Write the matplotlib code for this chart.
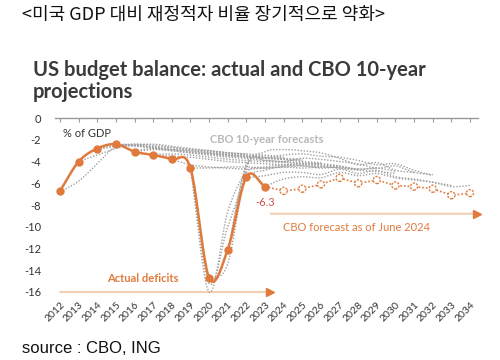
import numpy as np
import matplotlib
matplotlib.use("Agg")
import matplotlib.pyplot as plt

plt.rcParams['font.family'] = ['Lato', 'DejaVu Sans']

# ---------------- data ----------------
years = list(range(2012, 2035))
actual_years = list(range(2012, 2024))
actual = [-6.7, -4.0, -2.8, -2.4, -3.1, -3.4, -3.8, -4.6, -14.7, -12.1, -5.4, -6.3]

june2024_years = list(range(2023, 2035))
june2024 = [-6.3, -6.7, -6.5, -6.1, -5.5, -6.0, -5.7, -6.2, -6.3, -6.5, -7.1, -6.9]

cbo_2012 = [-6.8, -5.8, -4.2, -2.6, -2.5, -2.4, -2.6, -2.8, -3.0, -3.2, -3.3]
cbo_2013 = [-4.0, -3.4, -2.8, -2.4, -2.5, -2.7, -2.9, -3.1, -3.2, -3.4, -3.5]
cbo_2014 = [-2.9, -2.6, -2.5, -2.7, -2.9, -3.0, -3.2, -3.4, -3.5, -3.6, -3.7]
cbo_2014b = [-2.8, -2.5, -2.4, -2.6, -2.7, -2.9, -3.0, -3.2, -3.3, -3.4, -3.6]
cbo_2015 = [-2.4, -2.5, -2.8, -3.0, -3.2, -3.3, -3.5, -3.6, -3.7, -3.8, -3.9]
cbo_2015b = [-2.5, -2.6, -2.7, -2.9, -3.0, -3.2, -3.3, -3.5, -3.6, -3.7, -3.8]
cbo_2016 = [-3.1, -2.9, -3.0, -3.2, -3.4, -3.6, -3.7, -3.9, -4.0, -4.1, -4.2]
cbo_2016b = [-3.0, -2.8, -2.9, -3.1, -3.3, -3.4, -3.6, -3.7, -3.8, -4.0, -4.1]
cbo_2017 = [-3.4, -3.5, -3.6, -3.8, -4.0, -4.1, -4.2, -4.3, -4.4, -4.5, -4.5]
cbo_2017b = [-3.3, -3.3, -3.4, -3.6, -3.8, -3.9, -4.0, -4.1, -4.2, -4.3, -4.4]
cbo_2018 = [-3.8, -4.3, -4.5, -4.6, -4.7, -4.6, -4.5, -4.6, -4.5, -4.6, -4.7]
cbo_2019 = [-4.6, -4.6, -4.5, -4.5, -4.6, -4.5, -4.4, -4.6, -4.5, -4.7, -4.6]
cbo_2020 = [-4.6, -16.0, -8.6, -5.0, -4.5, -4.3, -4.2, -4.2, -4.4, -4.7, -4.6, -4.9]
cbo_2020b = [-4.6, -15.2, -10.0, -5.6, -4.8, -4.4, -4.3, -4.4, -4.6, -4.8, -4.9, -5.1]
cbo_2021 = [-14.9, -13.4, -4.7, -3.1, -2.9, -3.0, -3.2, -3.7, -4.3, -4.1, -4.8, -5.0]
cbo_2022 = [-12.4, -4.2, -3.9, -4.0, -3.7, -3.8, -4.0, -4.2, -4.6, -4.4, -5.0, -5.2]
cbo_2022b = [-12.2, -4.4, -3.7, -3.4, -3.3, -3.5, -3.6, -3.9, -4.3, -4.2, -4.8, -5.3]
cbo_2023 = [-5.5, -5.3, -5.0, -5.0, -5.2, -4.7, -5.1, -4.8, -5.4, -5.6, -5.9, -6.2]
cbo_2024 = [-6.3, -5.6, -5.4, -5.5, -5.0, -5.3, -5.1, -5.5, -5.7, -5.9, -6.3, -6.2]
cbo_starts = [2012, 2013, 2014, 2014, 2015, 2015, 2016, 2016, 2017, 2017, 2018, 2019,
              2019, 2019, 2020, 2021, 2021, 2022, 2023]
cbo_series = [cbo_2012, cbo_2013, cbo_2014, cbo_2014b, cbo_2015, cbo_2015b, cbo_2016,
              cbo_2016b, cbo_2017, cbo_2017b, cbo_2018, cbo_2019, cbo_2020, cbo_2020b,
              cbo_2021, cbo_2022, cbo_2022b, cbo_2023, cbo_2024]

yticks = [0, -2, -4, -6, -8, -10, -12, -14, -16]

# ---------------- helpers ----------------
def smooth(x, y, n=20):
    x = np.asarray(x, float); y = np.asarray(y, float)
    if len(x) < 3:
        return x, y
    px = np.concatenate([[2 * x[0] - x[1]], x, [2 * x[-1] - x[-2]]])
    py = np.concatenate([[2 * y[0] - y[1]], y, [2 * y[-1] - y[-2]]])
    xs, ys = [], []
    t = np.linspace(0, 1, n, endpoint=False)
    for i in range(1, len(px) - 2):
        f = lambda a0, a1, a2, a3: 0.5 * ((2 * a1) + (-a0 + a2) * t +
                                           (2 * a0 - 5 * a1 + 4 * a2 - a3) * t ** 2 +
                                           (-a0 + 3 * a1 - 3 * a2 + a3) * t ** 3)
        xs.append(f(px[i - 1], px[i], px[i + 1], px[i + 2]))
        ys.append(f(py[i - 1], py[i], py[i + 1], py[i + 2]))
    xs.append([x[-1]]); ys.append([y[-1]])
    return np.concatenate(xs), np.concatenate(ys)

ORANGE = '#E07A3C'
LIGHT_OR = '#F2CFB3'
GRAY = '#A0A0A0'
TXT = '#333333'

fig = plt.figure(figsize=(5, 3.6), dpi=100)
fig.patch.set_facecolor('white')
ax = fig.add_axes([0.11, 0.175, 0.846, 0.497])

# gray CBO forecasts
for s, vals in zip(cbo_starts, cbo_series):
    xx = list(range(s, s + len(vals)))
    sx, sy = smooth(xx, vals)
    ax.plot(sx, sy, color=GRAY, lw=1.0, ls=(0, (1, 1.2)), zorder=2)

# June 2024 forecast
ax.plot(june2024_years, june2024, color=ORANGE, lw=1.2, ls=(0, (1, 1.2)), zorder=3)
ax.scatter(june2024_years[1:], june2024[1:], s=26, facecolors='white',
           edgecolors=ORANGE, linewidths=1.0, linestyles=(0, (1.5, 1)), zorder=4)

# actual
sx, sy = smooth(actual_years, actual)
ax.plot(sx, sy, color=ORANGE, lw=1.8, zorder=5)
ax.plot(actual_years, actual, 'o', color=ORANGE, ms=5, zorder=6)

# arrows
ax.annotate('', xy=(2023.25, -16), xytext=(2012, -16),
            arrowprops=dict(arrowstyle='-', color=LIGHT_OR, lw=1.5,
                            shrinkA=0, shrinkB=0), zorder=1)
ax.plot([2023.25], [-16], marker='>', color=ORANGE, ms=6, clip_on=False, zorder=2)
ax.annotate('', xy=(2034.4, -8.8), xytext=(2023.3, -8.8),
            arrowprops=dict(arrowstyle='-', color=LIGHT_OR, lw=1.5,
                            shrinkA=0, shrinkB=0), zorder=1)
ax.plot([2034.4], [-8.8], marker='>', color=ORANGE, ms=6, clip_on=False, zorder=2)

# texts
ax.text(2012.15, -1.4, '% of GDP', fontsize=8, color=TXT, va='center', ha='left')
ax.text(2023.1, -2.0, 'CBO 10-year forecasts', fontsize=8, color='#B8B8B8',
        fontweight='bold', va='center', ha='center')
ax.text(2023.0, -7.8, '-6.3', fontsize=8, color='#D0524A', va='center', ha='center')
ax.text(2023.95, -10.1, 'CBO forecast as of June 2024', fontsize=8, color=ORANGE,
        va='center', ha='left')
ax.text(2014.5, -14.8, 'Actual deficits', fontsize=8, color=ORANGE,
        fontweight='bold', va='center', ha='left')

# axes style
ax.set_xlim(2011.73, 2034.43)
ax.set_ylim(-16.46, 0)
ax.set_yticks(yticks)
ax.set_yticklabels([str(v) for v in yticks], fontsize=8, color=TXT)
ax.set_xticks(years)
ax.set_xticklabels([str(y) for y in years], rotation=45, ha='right',
                   rotation_mode='anchor', fontsize=7.5, color=TXT)
for sp in ['left', 'right', 'bottom']:
    ax.spines[sp].set_visible(False)
ax.spines['top'].set_color('#999999')
ax.spines['top'].set_linewidth(1.0)
ax.tick_params(axis='y', length=0, pad=10)
ax.tick_params(axis='x', bottom=False, top=True, direction='in', length=3,
               color='#999999', labelbottom=True, labeltop=False, pad=2)

# titles
fig.text(0.044, 0.958, '<미국 GDP 대비 재정적자 비율 장기적으로 약화>', fontsize=13,
         family=['Noto Sans CJK KR', 'DejaVu Sans'], color='#111111', va='center')
fig.text(0.066, 1 - 76 / 360, 'US budget balance: actual and CBO 10-year',
         fontsize=14.5, fontweight='bold', color='#3A3A3A', va='baseline')
fig.text(0.066, 1 - 98 / 360, 'projections',
         fontsize=14.5, fontweight='bold', color='#3A3A3A', va='baseline')
fig.text(0.044, 0.033, 'source : CBO, ING', fontsize=12,
         family=['Liberation Sans', 'DejaVu Sans'], color='#111111', va='center')

fig.savefig('out.png', dpi=100, facecolor='white')
